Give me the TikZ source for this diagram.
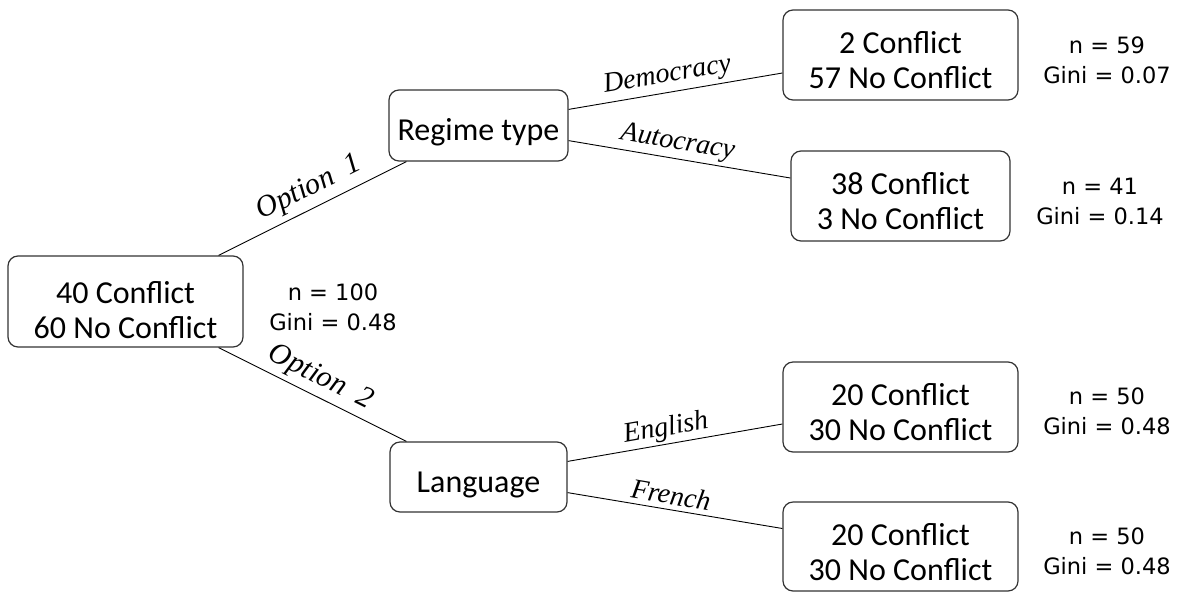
\documentclass[tikz,border=0pt]{standalone}
\usepackage{fontspec}
\setmainfont{Carlito}
\newfontfamily\statfont{DejaVu Sans}
\newfontfamily\edgefont{Liberation Serif}
\usetikzlibrary{calc}
\begin{document}
\begin{tikzpicture}[x=1pt,y=-1pt,
  box/.style={draw=black!80, line width=1.2pt, rounded corners=10pt, inner sep=0pt},
  boxtext/.style={font=\fontsize{32}{35}\selectfont, align=center, anchor=base, inner sep=0pt},
  stat/.style={font=\statfont\fontsize{22.5}{29.5}\selectfont, align=center, anchor=base, inner sep=0pt},
  edge/.style={line width=0.9pt, black},
  lbase/.style={sloped, inner sep=0pt, text depth=0pt},
  elabel/.style={lbase, font=\edgefont\itshape\fontsize{28}{30}\selectfont},
  olabel/.style={lbase, font=\edgefont\itshape\fontsize{30}{32}\selectfont},
]
\useasboundingbox (0,0) rectangle (1180,592);

% boxes
\node[box, minimum width=235pt, minimum height=91pt] (root) at (125.5,301.5) {};
\node[box, minimum width=179pt, minimum height=71pt] (regime) at (478.5,125.5) {};
\node[box, minimum width=177pt, minimum height=70pt] (lang) at (478.5,477) {};
\node[box, minimum width=235pt, minimum height=90pt] (dem) at (900.5,55) {};
\node[box, minimum width=219pt, minimum height=90pt] (aut) at (900.5,196) {};
\node[box, minimum width=235pt, minimum height=90pt] (eng) at (900.5,407) {};
\node[box, minimum width=235pt, minimum height=89pt] (fre) at (900.5,546.5) {};

% box texts (anchor base = last line)
\node[boxtext] (roottxt) at (125.5,338) {40 Conflict\\60 No Conflict};
\node[boxtext] (regimetxt) at (478.5,140) {Regime type};
\node[boxtext] (langtxt) at (478.5,492) {Language};
\node[boxtext] (demtxt) at (900.5,88) {2 Conflict\\57 No Conflict};
\node[boxtext] (auttxt) at (900.5,229) {38 Conflict\\3 No Conflict};
\node[boxtext] (engtxt) at (900.5,440) {20 Conflict\\30 No Conflict};
\node[boxtext] (fretxt) at (900.5,580) {20 Conflict\\30 No Conflict};

% stats
\node[stat] (s0) at (333,330) {n = 100\\Gini = 0.48};
\node[stat] (s1) at (1107,83) {n = 59\\Gini = 0.07};
\node[stat] (s2) at (1100,224) {n = 41\\Gini = 0.14};
\node[stat] (s3) at (1107,434) {n = 50\\Gini = 0.48};
\node[stat] (s4) at (1107,574) {n = 50\\Gini = 0.48};

% connectors
\draw[edge] ($(root.north east)+(-25,0)$) -- node[olabel, pos=0.53, above=12pt] {Option\hspace{0.5em}1} ($(regime.south west)+(18,0)$);
\draw[edge] ($(root.south east)+(-25,0)$) -- node[olabel, pos=0.5, above=11pt] {Option\hspace{0.5em}2} ($(lang.north west)+(17,0)$);
\draw[edge] ($(regime.north east)+(0,20)$) -- node[elabel, pos=0.475, above=10pt] {Democracy} ($(dem.west)+(0,18)$);
\draw[edge] ($(regime.south east)+(0,-21)$) -- node[elabel, pos=0.48, above=9pt] {Autocracy} ($(aut.west)+(0,-18)$);
\draw[edge] ($(lang.north east)+(0,20)$) -- node[elabel, pos=0.47, above=8pt] {English} ($(eng.west)+(0,17)$);
\draw[edge] ($(lang.south east)+(0,-20)$) -- node[elabel, pos=0.47, above=5pt] {French} ($(fre.west)+(0,-18)$);
\end{tikzpicture}
\end{document}
